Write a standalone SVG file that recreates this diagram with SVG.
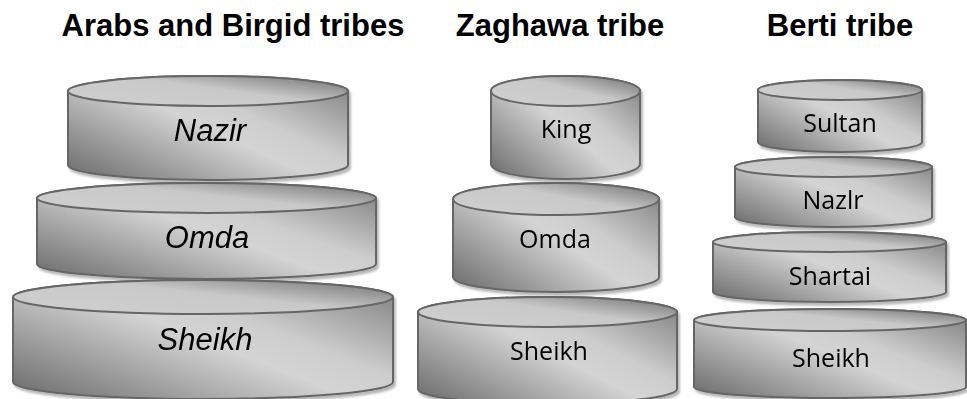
<svg xmlns="http://www.w3.org/2000/svg" width="967" height="399" viewBox="0 0 967 399">
  <defs>
    <!-- side of each drum: dark lower-left, light centre, mid-dark upper-right -->
    <linearGradient id="sideFill" x1="0" y1="0.9" x2="1" y2="0.1">
      <stop offset="0" stop-color="#727272"/>
      <stop offset="0.5" stop-color="#d4d4d4"/>
      <stop offset="0.65" stop-color="#cdcdcd"/>
      <stop offset="1" stop-color="#858585"/>
    </linearGradient>
    <!-- lid of each drum -->
    <linearGradient id="lidFill" x1="0" y1="0.9" x2="1" y2="0.1">
      <stop offset="0" stop-color="#cfcfcf"/>
      <stop offset="0.55" stop-color="#c9c9c9"/>
      <stop offset="1" stop-color="#777777"/>
    </linearGradient>
    <filter id="dropShadow" x="-5%" y="-10%" width="112%" height="130%">
      <feDropShadow dx="2" dy="3" stdDeviation="1" flood-color="#000" flood-opacity="0.28"/>
    </filter>
  </defs>
  <style>
    .side { fill: url(#sideFill); stroke: #666666; stroke-width: 2; }
    .lid { fill: url(#lidFill); stroke: #666666; stroke-width: 2; }
    .drum { filter: url(#dropShadow); }
    .title { font-family: "Liberation Sans", Arial, sans-serif; font-weight: bold; font-size: 31px; fill: #000; text-anchor: middle; }
    .lblItalic { font-family: "Liberation Sans", Arial, sans-serif; font-style: italic; font-size: 31px; fill: #000; text-anchor: middle; }
    .lbl { font-family: "Open Sans", "Noto Sans", sans-serif; font-size: 25px; fill: #000; text-anchor: middle; }
  </style>

  <rect width="967" height="399" fill="#fff"/>

  <!-- column headings -->
  <text class="title" x="233" y="36">Arabs and Birgid tribes</text>
  <text class="title" x="560" y="36">Zaghawa tribe</text>
  <text class="title" x="840" y="36">Berti tribe</text>

  <!-- Arabs and Birgid tribes -->
  <g id="arabs-nazir" class="drum">
    <path class="side" d="M68,91 L68,165 A140,15 0 0 0 348,165 L348,91 A140,15 0 0 0 68,91 Z"/>
    <ellipse class="lid" cx="208" cy="91" rx="140" ry="15"/>
    <text class="lblItalic" x="210" y="141">Nazir</text>
  </g>
  <g id="arabs-omda" class="drum">
    <path class="side" d="M37,198 L37,264 A169.5,15 0 0 0 376,264 L376,198 A169.5,15 0 0 0 37,198 Z"/>
    <ellipse class="lid" cx="206.5" cy="198" rx="169.5" ry="15"/>
    <text class="lblItalic" x="207" y="248">Omda</text>
  </g>
  <g id="arabs-sheikh" class="drum">
    <path class="side" d="M13,297 L13,382 A190,17 0 0 0 393,382 L393,297 A190,17 0 0 0 13,297 Z"/>
    <ellipse class="lid" cx="203" cy="297" rx="190" ry="17"/>
    <text class="lblItalic" x="205" y="350">Sheikh</text>
  </g>

  <!-- Zaghawa tribe -->
  <g id="zaghawa-king" class="drum">
    <path class="side" d="M491,91 L491,164 A74.5,15 0 0 0 640,164 L640,91 A74.5,15 0 0 0 491,91 Z"/>
    <ellipse class="lid" cx="565.5" cy="91" rx="74.5" ry="15"/>
    <text class="lbl" x="566" y="138">King</text>
  </g>
  <g id="zaghawa-omda" class="drum">
    <path class="side" d="M453,199 L453,277 A103,15 0 0 0 659,277 L659,199 A103,16 0 0 0 453,199 Z"/>
    <ellipse class="lid" cx="556" cy="199" rx="103" ry="16"/>
    <text class="lbl" x="555" y="248">Omda</text>
  </g>
  <g id="zaghawa-sheikh" class="drum">
    <path class="side" d="M418,312 L418,389 A129.5,15 0 0 0 677,389 L677,312 A129.5,15 0 0 0 418,312 Z"/>
    <ellipse class="lid" cx="547.5" cy="312" rx="129.5" ry="15"/>
    <text class="lbl" x="549" y="360">Sheikh</text>
  </g>

  <!-- Berti tribe -->
  <g id="berti-sultan" class="drum">
    <path class="side" d="M758,90 L758,142 A82,10 0 0 0 922,142 L922,90 A82,10 0 0 0 758,90 Z"/>
    <ellipse class="lid" cx="840" cy="90" rx="82" ry="10"/>
    <text class="lbl" x="840" y="132">Sultan</text>
  </g>
  <g id="berti-nazlr" class="drum">
    <path class="side" d="M735,167 L735,217 A98.5,10 0 0 0 932,217 L932,167 A98.5,10 0 0 0 735,167 Z"/>
    <ellipse class="lid" cx="833.5" cy="167" rx="98.5" ry="10"/>
    <text class="lbl" x="833" y="209">Nazlr</text>
  </g>
  <g id="berti-shartai" class="drum">
    <path class="side" d="M713,242 L713,292 A116.5,10 0 0 0 946,292 L946,242 A116.5,10 0 0 0 713,242 Z"/>
    <ellipse class="lid" cx="829.5" cy="242" rx="116.5" ry="10"/>
    <text class="lbl" x="830" y="285">Shartai</text>
  </g>
  <g id="berti-sheikh" class="drum">
    <path class="side" d="M694,320 L694,387 A136,11 0 0 0 966,387 L966,320 A136,11 0 0 0 694,320 Z"/>
    <ellipse class="lid" cx="830" cy="320" rx="136" ry="11"/>
    <text class="lbl" x="831" y="367">Sheikh</text>
  </g>

  <!-- no connectors in this chart; kept as an empty layer -->
  <g id="connectors"/>
</svg>
